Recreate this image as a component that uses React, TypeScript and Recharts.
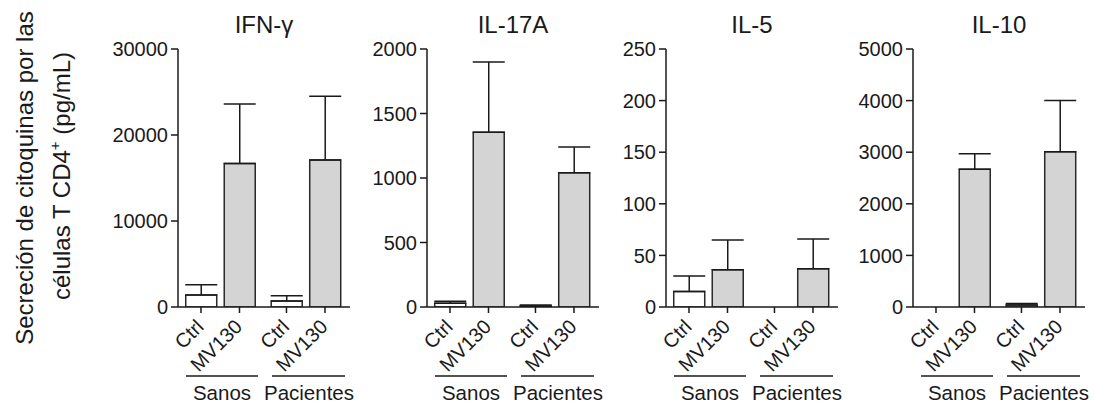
import { Bar, BarChart, Cell, ErrorBar, XAxis, YAxis } from 'recharts';

const conditions = ['Ctrl', 'MV130', 'Ctrl', 'MV130'];
const groupOf = [0, 0, 1, 1];
const groupNames = ['Sanos', 'Pacientes'];

const titles = ['IFN-γ', 'IL-17A', 'IL-5', 'IL-10'];
const yMaxes = [30000, 2000, 250, 5000];
const yTicks = [
  [0, 10000, 20000, 30000],
  [0, 500, 1000, 1500, 2000],
  [0, 50, 100, 150, 200, 250],
  [0, 1000, 2000, 3000, 4000, 5000],
];

// mean and upper error (SEM) per condition: Sanos Ctrl, Sanos MV130, Pacientes Ctrl, Pacientes MV130
const ifngMean = [1400, 16700, 700, 17100];
const ifngErr = [1200, 6900, 600, 7400];
const il17Mean = [30, 1355, 8, 1040];
const il17Err = [15, 545, 7, 200];
const il5Mean = [15, 36, 0, 37];
const il5Err = [15, 29, 0, 29];
const il10Mean = [0, 2670, 40, 3010];
const il10Err = [0, 300, 30, 990];

const means = [ifngMean, il17Mean, il5Mean, il10Mean];
const errs = [ifngErr, il17Err, il5Err, il10Err];

// left edge of each panel's y axis on the page
const axisXs = [178, 427, 666, 913];

const FONT = '"Liberation Sans", Arial, sans-serif';
const INK = '#1a1a1a';
const GROUP_GAP = 0.22;
const PLOT_TOP = 49;
const PLOT_BOTTOM = 307;
const CHART_W = 250;
const CHART_H = 407;

const xPos = (i: number) => i + groupOf[i] * GROUP_GAP;

const XTick = (props: any) => {
  const { x, y, payload } = props;
  const idx = [0, 1, 2, 3].find((i) => Math.abs(xPos(i) - payload.value) < 1e-6) ?? 0;
  const ax = x + 4;
  const ay = y + 15;
  return (
    <text
      x={ax}
      y={ay}
      transform={`rotate(-45, ${ax}, ${ay})`}
      textAnchor="end"
      fontSize={20}
      fontFamily={FONT}
      fill={INK}
    >
      {conditions[idx]}
    </text>
  );
};

const Panel = ({ p }: { p: number }) => {
  const data = conditions.map((c, i) => ({
    x: xPos(i),
    value: means[p][i],
    err: [0, errs[p][i]],
    cond: c,
  }));
  return (
    <div style={{ position: 'absolute', left: axisXs[p] - 70, top: 0 }}>
      <BarChart
        width={CHART_W}
        height={CHART_H}
        data={data}
        margin={{ top: PLOT_TOP, right: 8, left: 10, bottom: CHART_H - PLOT_BOTTOM - 60 }}
      >
        <XAxis
          dataKey="x"
          type="number"
          domain={[-0.597, 3.87]}
          ticks={data.map((d) => d.x)}
          interval={0}
          height={60}
          tickSize={6}
          tickMargin={0}
          tick={<XTick />}
          axisLine={{ stroke: INK, strokeWidth: 1.5 }}
          tickLine={{ stroke: INK, strokeWidth: 1.5 }}
          allowDataOverflow
        />
        <YAxis
          type="number"
          domain={[0, yMaxes[p]]}
          ticks={yTicks[p]}
          interval={0}
          width={60}
          tickSize={7}
          tickMargin={3}
          tick={{ fontSize: 20, fontFamily: FONT, fill: INK }}
          axisLine={{ stroke: INK, strokeWidth: 1.5 }}
          tickLine={{ stroke: INK, strokeWidth: 1.5 }}
          allowDataOverflow
        />
        <Bar dataKey="value" barSize={31} stroke="#2a2a2a" strokeWidth={1.5} isAnimationActive={false}>
          {data.map((d, i) => (
            <Cell key={i} fill={d.cond === 'Ctrl' ? '#ffffff' : '#d4d4d4'} />
          ))}
          <ErrorBar dataKey="err" width={16} stroke={INK} strokeWidth={1.5} direction="y" />
        </Bar>
      </BarChart>
    </div>
  );
};

export default function App() {
  return (
    <div style={{ position: 'absolute', left: 0, top: 0, width: 1094, height: 407, background: '#fff' }}>
      {[0, 1, 2, 3].map((p) => (
        <Panel key={p} p={p} />
      ))}
      <svg
        width={1094}
        height={407}
        style={{ position: 'absolute', left: 0, top: 0, pointerEvents: 'none' }}
        fontFamily={FONT}
        fill={INK}
      >
        <text x={33} y={178} transform="rotate(-90, 33, 178)" textAnchor="middle" fontSize={24}>
          Secreción de citoquinas por las
        </text>
        <text x={70} y={176} transform="rotate(-90, 70, 176)" textAnchor="middle" fontSize={24}>
          células T CD4
          <tspan fontSize={15} dy={-10}>+</tspan>
          <tspan dy={10}> (pg/mL)</tspan>
        </text>
        {axisXs.map((ax, p) => (
          <g key={p}>
            <text x={ax + 86} y={33} textAnchor="middle" fontSize={24}>
              {titles[p]}
            </text>
            <line x1={ax + 8} x2={ax + 80} y1={376} y2={376} stroke={INK} strokeWidth={1.5} />
            <line x1={ax + 94} x2={ax + 167} y1={376} y2={376} stroke={INK} strokeWidth={1.5} />
            <text x={ax + 44} y={400} textAnchor="middle" fontSize={20.5}>
              {groupNames[0]}
            </text>
            <text x={ax + 131} y={400} textAnchor="middle" fontSize={20.5}>
              {groupNames[1]}
            </text>
          </g>
        ))}
      </svg>
    </div>
  );
}
